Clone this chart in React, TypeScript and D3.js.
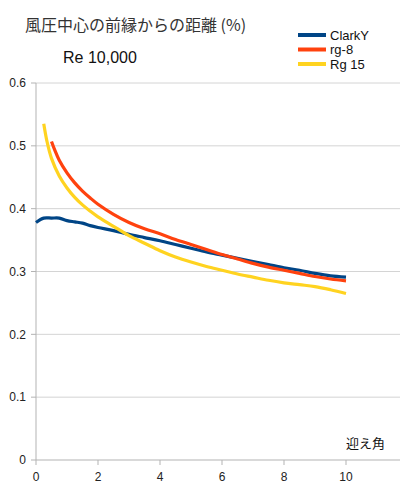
import React from "react";
import * as d3 from "d3";

const clarkX = [0, 0.25, 0.5, 0.75, 1, 1.25, 1.5, 1.75, 2, 2.5, 3, 3.5, 4, 4.5, 5, 5.5, 6, 6.5, 7, 7.5, 8, 8.5, 9, 9.5, 10];
const clarkY = [0.378, 0.385, 0.385, 0.385, 0.381, 0.379, 0.377, 0.373, 0.37, 0.365, 0.359, 0.354, 0.349, 0.343, 0.337, 0.331, 0.326, 0.321, 0.316, 0.311, 0.306, 0.302, 0.297, 0.293, 0.291];
const rg8X = [0.5, 0.6, 0.75, 1, 1.25, 1.5, 1.75, 2, 2.5, 3, 3.5, 4, 4.5, 5, 5.5, 6, 6.5, 7, 7.5, 8, 8.5, 9, 9.5, 10];
const rg8Y = [0.507, 0.494, 0.477, 0.457, 0.441, 0.428, 0.417, 0.407, 0.391, 0.378, 0.368, 0.36, 0.351, 0.343, 0.335, 0.327, 0.32, 0.313, 0.307, 0.302, 0.297, 0.292, 0.288, 0.285];
const rg15X = [0.25, 0.35, 0.5, 0.75, 1, 1.25, 1.5, 1.75, 2, 2.5, 3, 3.5, 4, 4.5, 5, 5.5, 6, 6.5, 7, 7.5, 8, 8.5, 9, 9.5, 10];
const rg15Y = [0.535, 0.508, 0.48, 0.452, 0.433, 0.418, 0.406, 0.396, 0.387, 0.372, 0.357, 0.345, 0.333, 0.323, 0.315, 0.308, 0.302, 0.296, 0.291, 0.286, 0.282, 0.279, 0.276, 0.271, 0.265];

const seriesNames = ["ClarkY", "rg-8", "Rg 15"];
const seriesColors = ["#004586", "#ff420e", "#ffd320"];
const xTicks = [0, 2, 4, 6, 8, 10];
const yTicks = [0, 0.1, 0.2, 0.3, 0.4, 0.5, 0.6];

const title = "風圧中心の前縁からの距離 (%)";
const subtitle = "Re 10,000";
const xLabel = "迎え角";

export default function App() {
  const W = 400, H = 500;
  const left = 36, right = 400, top = 83, bottom = 460;
  const x = d3.scaleLinear().domain([0, (right - left) / 31]).range([left, right]);
  const y = d3.scaleLinear().domain([0, 0.6]).range([bottom, top]);
  const line = d3.line<[number, number]>().x(d => x(d[0])).y(d => y(d[1])).curve(d3.curveCatmullRom.alpha(0.5));
  const series = [
    clarkX.map((v, i) => [v, clarkY[i]] as [number, number]),
    rg8X.map((v, i) => [v, rg8Y[i]] as [number, number]),
    rg15X.map((v, i) => [v, rg15Y[i]] as [number, number]),
  ];
  const font = "'Liberation Sans', Arial, sans-serif";
  return (
    <svg width={W} height={H} style={{ position: "absolute", left: 0, top: 0, background: "#fff" }}>
      <rect width={W} height={H} fill="#fff" />
      {yTicks.map(t => (
        <g key={t}>
          {t > 0 && <line x1={left} x2={right} y1={y(t)} y2={y(t)} stroke="#d4d4d4" strokeWidth={1} />}
          <line x1={left - 5} x2={left} y1={y(t)} y2={y(t)} stroke="#b3b3b3" />
          <text x={26} y={y(t)} dy="0.35em" textAnchor="end" fontFamily={font} fontSize={12} fill="#222">{t === 0 ? "0" : t.toFixed(1)}</text>
        </g>
      ))}
      {xTicks.map(t => (
        <g key={t}>
          <line x1={x(t)} x2={x(t)} y1={bottom} y2={bottom + 5} stroke="#b3b3b3" />
          <text x={x(t)} y={477} dy="0.35em" textAnchor="middle" fontFamily={font} fontSize={12} fill="#222">{t}</text>
        </g>
      ))}
      <line x1={left} x2={left} y1={top} y2={bottom} stroke="#b3b3b3" />
      <line x1={left} x2={right} y1={bottom} y2={bottom} stroke="#b3b3b3" />
      {series.map((s, i) => (
        <path key={i} d={line(s) || ""} fill="none" stroke={seriesColors[i]} strokeWidth={3.2} strokeLinejoin="round" />
      ))}
      <text x={25} y={25} dy="0.35em" fontFamily="'Noto Sans CJK JP', sans-serif" fontSize={16} fill="#333">{title}</text>
      <text x={63} y={57} dy="0.35em" fontFamily={font} fontSize={16} fill="#111">{subtitle}</text>
      {seriesNames.map((n, i) => (
        <g key={n}>
          <line x1={298} x2={326} y1={35 + i * 14.5} y2={35 + i * 14.5} stroke={seriesColors[i]} strokeWidth={4} />
          <text x={330} y={35 + i * 14.5} dy="0.35em" fontFamily={font} fontSize={13} fill="#111">{n}</text>
        </g>
      ))}
      <text x={385} y={443} dy="0.35em" textAnchor="end" fontFamily="'Noto Sans CJK JP', sans-serif" fontSize={13} fill="#111">{xLabel}</text>
    </svg>
  );
}
